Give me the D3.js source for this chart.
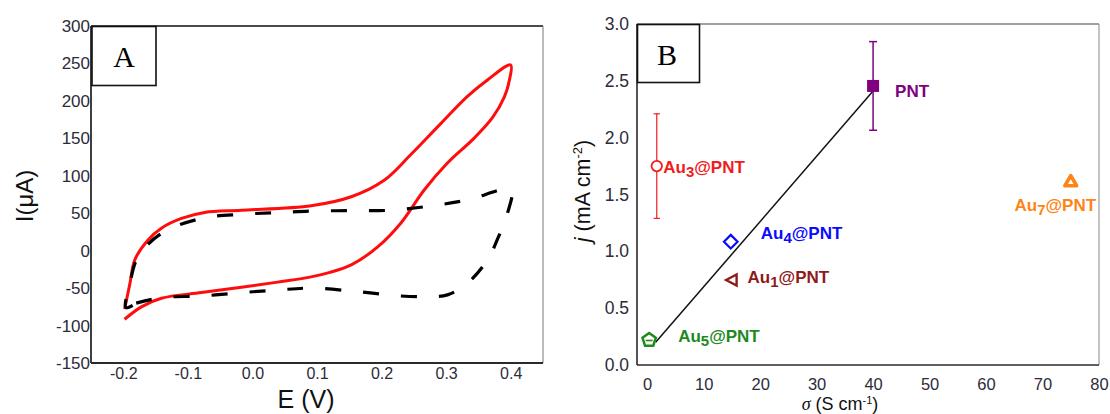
<!DOCTYPE html>
<html>
<head>
<meta charset="utf-8">
<script src="https://cdn.jsdelivr.net/npm/d3@7"></script>
<style>
  body { margin: 0; background: #fff; }
  svg { display: block; }
  text { font-family: Arial, "Liberation Sans", sans-serif; }
</style>
</head>
<body>
<svg id="fig" width="1110" height="414"></svg>
<script>
// ---------- Panel A: cyclic voltammograms (E in V, I in µA) ----------
// Au-loaded film (solid red), one continuous sweep
const cvAuE = [-0.198, -0.172, -0.141, -0.079, -0.017, 0.039, 0.091, 0.12, 0.153, 0.194, 0.230, 0.266, 0.302, 0.343, 0.372, 0.390, 0.398, 0.400,
               0.364, 0.333, 0.292, 0.245, 0.204, 0.153, 0.091, -0.017, -0.074, -0.110, -0.141, -0.162, -0.182, -0.190, -0.198];
const cvAuI = [-91.6, -75, -63.6, -56, -49, -42, -35, -29, -19, 5, 37, 81, 117, 150, 178, 205, 228, 248,
               228, 206, 170, 128, 94, 72, 60, 54, 51, 43, 30, 14, -12, -45, -78];
// Bare film (dashed black)
const cvBareE = [-0.180, -0.141, -0.079, -0.017, 0.039, 0.091, 0.163, 0.230, 0.271, 0.302, 0.333, 0.364, 0.379, 0.395, 0.400,
                 0.333, 0.276, 0.214, 0.153, 0.091, 0.039, -0.017, -0.079, -0.141, -0.177, -0.190, -0.196, -0.180];
const cvBareI = [-70, -62.7, -60.5, -56, -52.5, -50, -54.7, -60.5, -61.4, -59, -43.5, -12.4, 14.3, 50, 81,
                 67.7, 59.7, 54, 53.4, 53, 50.7, 48.6, 43, 23, -8, -45, -76, -70];
const cvTicksE = [-0.2, -0.1, 0.0, 0.1, 0.2, 0.3, 0.4];
const cvTicksI = [-150, -100, -50, 0, 50, 100, 150, 200, 250, 300];

// ---------- Panel B: current density vs conductivity ----------
const samples = ["Au3@PNT", "PNT", "Au4@PNT", "Au1@PNT", "Au5@PNT", "Au7@PNT"];
const sigma   = [1.7, 40, 14.8, 14.95, 0.35, 75];
const jVal    = [1.75, 2.455, 1.085, 0.748, 0.22, 1.607];
const jErr    = [0.46, 0.39, null, null, null, null];
const fitSigma = [1.5, 40];
const fitJ     = [0.2, 2.41];
const sigmaTicks = [0, 10, 20, 30, 40, 50, 60, 70, 80];
const jTicks     = [0.0, 0.5, 1.0, 1.5, 2.0, 2.5, 3.0];

// marker / label styling per sample
const sampleStyle = {
  "Au3@PNT": { color: "#f21b1b", shape: "circle",   dx: 6.5, dy: 7,    anchor: "start", cap: 3.2, ew: 1.2 },
  "PNT":     { color: "#800080", shape: "square",   dx: 22,  dy: 10.7, anchor: "start", cap: 4,   ew: 1.5 },
  "Au4@PNT": { color: "#0a0aff", shape: "diamond",  dx: 30,  dy: -2.7, anchor: "start" },
  "Au1@PNT": { color: "#8e1b1b", shape: "triLeft",  dx: 16,  dy: 2.7,  anchor: "start" },
  "Au5@PNT": { color: "#1e8a1e", shape: "pentagon", dx: 29,  dy: 2,    anchor: "start" },
  "Au7@PNT": { color: "#ff8418", shape: "triUp",    dx: -15.5, dy: 28.4, anchor: "middle" }
};

const svg = d3.select("#fig");
const tickColor = "#2c2c38";

// ================= Panel A =================
const xA = d3.scaleLinear().domain([-0.25, 0.45]).range([91, 543]);
const yA = d3.scaleLinear().domain([-150, 300]).range([363, 26]);
const gA = svg.append("g");

// frame
gA.append("line").attr("x1", 91).attr("x2", 543).attr("y1", 26).attr("y2", 26).attr("stroke", "#111").attr("stroke-width", 1.3);
gA.append("line").attr("x1", 543).attr("x2", 543).attr("y1", 26).attr("y2", 363).attr("stroke", "#777").attr("stroke-width", 1);
gA.append("line").attr("x1", 91).attr("x2", 91).attr("y1", 26).attr("y2", 363).attr("stroke", "#2a2a2a").attr("stroke-width", 1.8);
gA.append("line").attr("x1", 91).attr("x2", 543).attr("y1", 363).attr("y2", 363).attr("stroke", "#2a2a2a").attr("stroke-width", 1.8);

const axAy = gA.append("g").attr("transform", "translate(91,0)")
  .call(d3.axisLeft(yA).tickValues(cvTicksI).tickSize(0).tickPadding(1).tickFormat(d => String(d)));
const axAx = gA.append("g").attr("transform", "translate(0,363)")
  .call(d3.axisBottom(xA).tickValues(cvTicksE).tickSize(0).tickPadding(5).tickFormat(d => d.toFixed(1)));
[axAy, axAx].forEach(a => {
  a.select(".domain").remove();
  a.selectAll("text").attr("fill", tickColor).style("font-family", "Arial, 'Liberation Sans', sans-serif");
});
axAy.selectAll("text").style("font-size", "17px");
axAx.selectAll("text").style("font-size", "16px");

const lineA = d3.line().x(d => xA(d[0])).y(d => yA(d[1])).curve(d3.curveCatmullRom.alpha(0.5));
gA.append("path").datum(cvAuE.map((e, i) => [e, cvAuI[i]]))
  .attr("d", lineA).attr("fill", "none").attr("stroke", "#ff0d0d").attr("stroke-width", 3).attr("stroke-linejoin", "round");
gA.append("path").datum(cvBareE.map((e, i) => [e, cvBareI[i]]))
  .attr("d", lineA).attr("fill", "none").attr("stroke", "#000").attr("stroke-width", 3.2).attr("stroke-dasharray", "16,22");

// panel tag
gA.append("rect").attr("x", 92).attr("y", 26.5).attr("width", 64).attr("height", 59)
  .attr("fill", "#fff").attr("stroke", "#111").attr("stroke-width", 1.6);
gA.append("text").attr("x", 124).attr("y", 67).attr("text-anchor", "middle")
  .style("font-family", "'Liberation Serif', 'Times New Roman', serif").style("font-size", "30px").text("A");

// axis titles
gA.append("text").attr("x", 306).attr("y", 408).attr("text-anchor", "middle")
  .style("font-size", "25px").attr("fill", "#111").text("E (V)");
gA.append("text").attr("transform", "translate(33,196) rotate(-90)").attr("text-anchor", "middle")
  .style("font-size", "24px").attr("fill", "#111").text("I(\u03BCA)");

// ================= Panel B =================
const xB = d3.scaleLinear().domain([-1.8, 80]).range([637, 1099]);
const yB = d3.scaleLinear().domain([0, 3]).range([365, 24]);
const gB = svg.append("g");

gB.append("line").attr("x1", 637).attr("x2", 1099).attr("y1", 24).attr("y2", 24).attr("stroke", "#444").attr("stroke-width", 1.1);
gB.append("line").attr("x1", 1099).attr("x2", 1099).attr("y1", 24).attr("y2", 365).attr("stroke", "#888").attr("stroke-width", 1);
gB.append("line").attr("x1", 637).attr("x2", 637).attr("y1", 24).attr("y2", 365).attr("stroke", "#2a2a2a").attr("stroke-width", 1.6);
gB.append("line").attr("x1", 637).attr("x2", 1099).attr("y1", 365).attr("y2", 365).attr("stroke", "#2a2a2a").attr("stroke-width", 1.6);

const axBy = gB.append("g").attr("transform", "translate(637,0)")
  .call(d3.axisLeft(yB).tickValues(jTicks).tickSize(0).tickPadding(8).tickFormat(d => d.toFixed(1)));
const axBx = gB.append("g").attr("transform", "translate(0,365)")
  .call(d3.axisBottom(xB).tickValues(sigmaTicks).tickSize(0).tickPadding(13).tickFormat(d => String(d)));
[axBy, axBx].forEach(a => {
  a.select(".domain").remove();
  a.selectAll("text").attr("fill", tickColor).style("font-family", "Arial, 'Liberation Sans', sans-serif");
});
axBy.selectAll("text").style("font-size", "17.5px");
axBx.selectAll("text").style("font-size", "16.5px");

// linear trend line
gB.append("line")
  .attr("x1", xB(fitSigma[0])).attr("y1", yB(fitJ[0]))
  .attr("x2", xB(fitSigma[1])).attr("y2", yB(fitJ[1]))
  .attr("stroke", "#111").attr("stroke-width", 1.5);

// error bars
samples.forEach((name, i) => {
  if (jErr[i] == null) return;
  const st = sampleStyle[name];
  const cx = xB(sigma[i]);
  const yt = yB(jVal[i] + jErr[i]), yb = yB(jVal[i] - jErr[i]);
  const g = gB.append("g").attr("stroke", st.color).attr("stroke-width", st.ew);
  g.append("line").attr("x1", cx).attr("x2", cx).attr("y1", yt).attr("y2", yb);
  g.append("line").attr("x1", cx - st.cap).attr("x2", cx + st.cap).attr("y1", yt).attr("y2", yt);
  g.append("line").attr("x1", cx - st.cap).attr("x2", cx + st.cap).attr("y1", yb).attr("y2", yb);
});

// markers
function polygon(n, r, rot) {
  return d3.range(n).map(k => {
    const a = rot + k * 2 * Math.PI / n;
    return [r * Math.cos(a), r * Math.sin(a)];
  });
}
samples.forEach((name, i) => {
  const st = sampleStyle[name];
  const g = gB.append("g").attr("transform", `translate(${xB(sigma[i])},${yB(jVal[i])})`);
  const c = st.color;
  if (st.shape === "circle") {
    g.append("circle").attr("r", 5.2).attr("fill", "#fff").attr("stroke", c).attr("stroke-width", 1.8);
  } else if (st.shape === "square") {
    g.append("rect").attr("x", -6).attr("y", -6).attr("width", 12).attr("height", 12).attr("fill", c);
  } else if (st.shape === "diamond") {
    g.append("path").attr("d", "M0,-6.8L6.8,0L0,6.8L-6.8,0Z").attr("fill", "#fff").attr("stroke", c).attr("stroke-width", 2.2);
  } else if (st.shape === "triLeft") {
    g.append("path").attr("d", "M-5.5,0L5,-5.5L5,5.5Z").attr("fill", "#fff").attr("stroke", c)
      .attr("stroke-width", 2.4).attr("stroke-linejoin", "miter");
  } else if (st.shape === "pentagon") {
    const p = polygon(5, 7, -Math.PI / 2);
    g.append("path").attr("d", "M" + p.map(q => q.join(",")).join("L") + "Z")
      .attr("fill", "#fff").attr("stroke", c).attr("stroke-width", 2.5);
    g.append("line").attr("x1", -3.5).attr("x2", 3.5).attr("y1", 0.5).attr("y2", 0.5).attr("stroke", c).attr("stroke-width", 1.6);
  } else if (st.shape === "triUp") {
    const p = polygon(3, 6.8, -Math.PI / 2);
    g.append("path").attr("d", "M" + p.map(q => q.join(",")).join("L") + "Z")
      .attr("fill", "#fff").attr("stroke", c).attr("stroke-width", 3.6).attr("stroke-linejoin", "round");
  }
});

// sample labels with subscripts
samples.forEach((name, i) => {
  const st = sampleStyle[name];
  const t = gB.append("text")
    .attr("x", xB(sigma[i]) + st.dx).attr("y", yB(jVal[i]) + st.dy)
    .attr("text-anchor", st.anchor).attr("fill", st.color)
    .style("font-size", "17px").style("font-weight", "bold");
  const m = name.match(/^(Au)(\d)(@PNT)$/);
  if (m) {
    t.append("tspan").text(m[1]);
    t.append("tspan").attr("dy", 4).style("font-size", "15px").text(m[2]);
    t.append("tspan").attr("dy", -4).text(m[3]);
  } else {
    t.text(name);
  }
});

// panel tag
gB.append("rect").attr("x", 637.5).attr("y", 24.5).attr("width", 62).attr("height", 58)
  .attr("fill", "#fff").attr("stroke", "#111").attr("stroke-width", 1.6);
gB.append("text").attr("x", 667).attr("y", 65).attr("text-anchor", "middle")
  .style("font-family", "'Liberation Serif', 'Times New Roman', serif").style("font-size", "30px").text("B");

// axis titles
const xt = gB.append("text").attr("x", 840).attr("y", 410).attr("text-anchor", "middle")
  .style("font-size", "18px").attr("fill", "#111");
xt.append("tspan").style("font-family", "'Liberation Serif', serif").style("font-style", "italic").text("\u03C3");
xt.append("tspan").text(" (S cm");
xt.append("tspan").attr("dy", -6).style("font-size", "11px").text("-1");
xt.append("tspan").attr("dy", 6).text(")");

const yt = gB.append("text").attr("transform", "translate(590,191) rotate(-90)").attr("text-anchor", "middle")
  .style("font-size", "21.5px").attr("fill", "#111");
yt.append("tspan").style("font-style", "italic").text("j");
yt.append("tspan").text(" (mA cm");
yt.append("tspan").attr("dy", -8).style("font-size", "13px").text("-2");
yt.append("tspan").attr("dy", 8).text(")");
</script>
</body>
</html>
